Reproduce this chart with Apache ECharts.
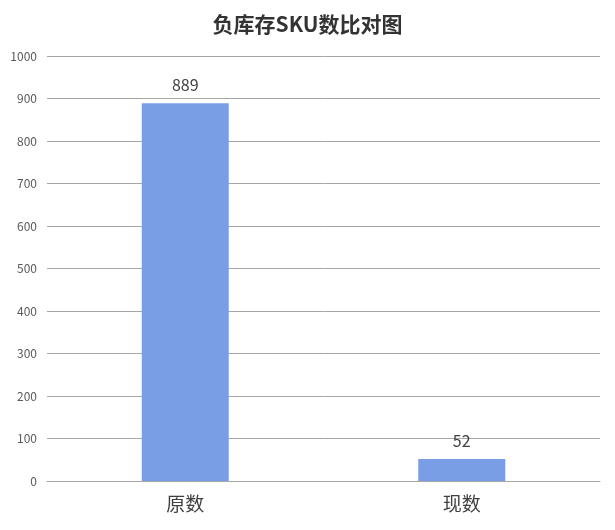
<!DOCTYPE html>
<html><head><meta charset="utf-8">
<script src="https://cdn.jsdelivr.net/npm/echarts@6/dist/echarts.min.js"></script>
<style>html,body{margin:0;padding:0;background:#fff}#c{width:615px;height:530px}</style>
</head><body><div id="c"></div>
<script>
const categories = ['原数', '现数'];
const values = [889, 52];
const titleText = '负库存SKU数比对图';
const yMin = 0, yMax = 1000, yInterval = 100;

const chart = echarts.init(document.getElementById('c'));
chart.setOption({
  animation: false,
  backgroundColor: '#fff',
  title: {
    text: titleText, left: 'center', top: 9,
    textStyle: {fontFamily: 'Noto Sans CJK SC', fontSize: 21, fontWeight: 'bold', color: '#333333'}
  },
  grid: {left: 47, right: 15, top: 56, bottom: 49},
  xAxis: {
    type: 'category', data: categories,
    axisLine: {lineStyle: {color: '#a6a6a6', width: 1}},
    axisTick: {show: false},
    axisLabel: {fontFamily: 'Noto Sans CJK SC', fontSize: 19, color: '#404040', margin: 13}
  },
  yAxis: {
    type: 'value', min: yMin, max: yMax, interval: yInterval,
    axisLine: {show: false}, axisTick: {show: false},
    axisLabel: {fontFamily: 'Noto Sans CJK SC', fontSize: 12, color: '#595959', margin: 10,
      formatter: v => String(v)},
    splitLine: {lineStyle: {color: '#a6a6a6', width: 1}}
  },
  series: [{
    type: 'bar', data: values, barWidth: 87,
    itemStyle: {color: '#7a9ee6'},
    label: {show: true, position: 'top', distance: 10, fontFamily: 'Noto Sans CJK SC', fontSize: 16, color: '#404040'}
  }]
});
</script></body></html>
